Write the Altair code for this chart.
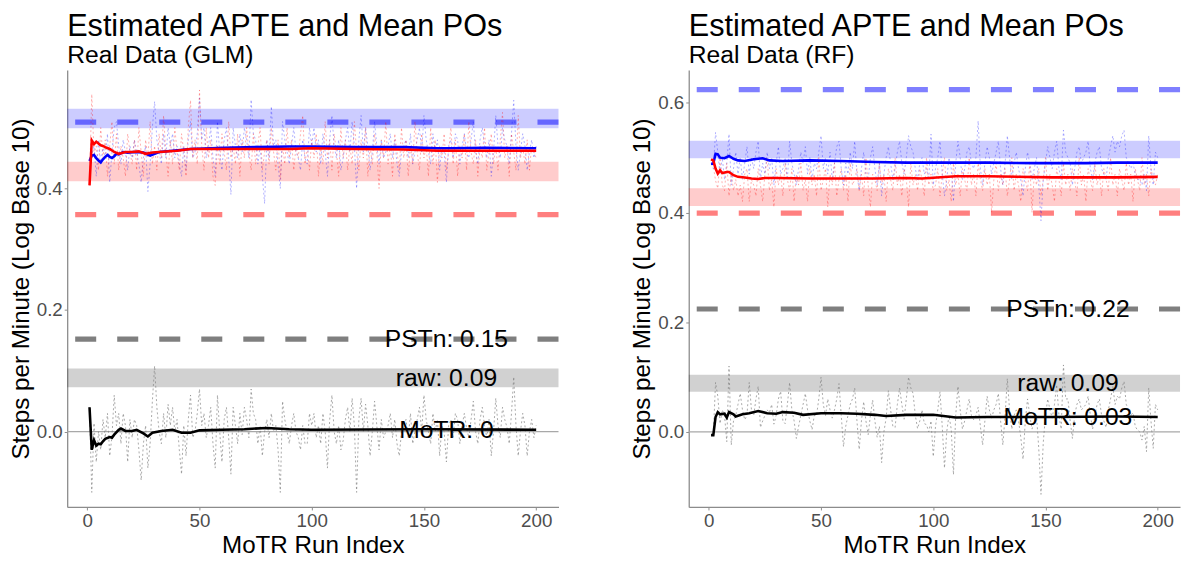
import altair as alt
import pandas as pd

FONT = "Liberation Sans"

runs = list(range(1, 201))

# ---------------- GLM panel: per-run values (dotted) ----------------
glm_treat = [
    0.445, 0.455, 0.470, 0.420, 0.480, 0.440, 0.470, 0.450, 0.490, 0.410, 0.460, 0.500, 0.510, 0.470, 0.440, 0.480, 0.460, 0.430, 0.470, 0.450,
    0.480, 0.460, 0.440, 0.410, 0.450, 0.470, 0.395, 0.440, 0.500, 0.543, 0.480, 0.460, 0.440, 0.490, 0.450, 0.500, 0.470, 0.490, 0.450, 0.470,
    0.440, 0.420, 0.470, 0.430, 0.480, 0.510, 0.450, 0.460, 0.490, 0.549, 0.480, 0.500, 0.450, 0.470, 0.500, 0.450, 0.420, 0.510, 0.460, 0.430,
    0.480, 0.500, 0.450, 0.390, 0.500, 0.470, 0.450, 0.490, 0.460, 0.500, 0.480, 0.450, 0.546, 0.490, 0.480, 0.440, 0.470, 0.420, 0.375, 0.480,
    0.450, 0.535, 0.470, 0.480, 0.440, 0.400, 0.510, 0.480, 0.460, 0.440, 0.470, 0.500, 0.460, 0.450, 0.430, 0.480, 0.450, 0.440, 0.500, 0.470,
    0.500, 0.460, 0.480, 0.440, 0.490, 0.460, 0.420, 0.480, 0.520, 0.470, 0.450, 0.480, 0.430, 0.450, 0.480, 0.500, 0.460, 0.510, 0.470, 0.400,
    0.480, 0.520, 0.460, 0.500, 0.470, 0.430, 0.460, 0.510, 0.470, 0.440, 0.480, 0.450, 0.460, 0.470, 0.490, 0.450, 0.480, 0.440, 0.420, 0.460,
    0.470, 0.480, 0.450, 0.490, 0.440, 0.460, 0.480, 0.500, 0.460, 0.520, 0.480, 0.460, 0.440, 0.490, 0.460, 0.480, 0.430, 0.470, 0.460, 0.410,
    0.470, 0.480, 0.450, 0.490, 0.480, 0.440, 0.470, 0.490, 0.460, 0.450, 0.480, 0.510, 0.460, 0.440, 0.480, 0.500, 0.470, 0.450, 0.480, 0.420,
    0.460, 0.520, 0.470, 0.450, 0.500, 0.480, 0.470, 0.440, 0.490, 0.545, 0.470, 0.430, 0.460, 0.490, 0.470, 0.430, 0.460, 0.480, 0.450, 0.470,
]
glm_control = [
    0.405, 0.555, 0.456, 0.470, 0.430, 0.500, 0.450, 0.480, 0.420, 0.470, 0.510, 0.440, 0.490, 0.430, 0.470, 0.450, 0.420, 0.490, 0.460, 0.440,
    0.480, 0.430, 0.500, 0.460, 0.420, 0.480, 0.450, 0.510, 0.440, 0.470, 0.430, 0.490, 0.450, 0.520, 0.460, 0.420, 0.480, 0.440, 0.500, 0.460,
    0.430, 0.490, 0.460, 0.420, 0.500, 0.545, 0.450, 0.480, 0.440, 0.562, 0.470, 0.430, 0.500, 0.450, 0.480, 0.420, 0.405, 0.470, 0.440, 0.490,
    0.460, 0.430, 0.510, 0.450, 0.470, 0.440, 0.490, 0.420, 0.480, 0.450, 0.500, 0.460, 0.430, 0.490, 0.440, 0.470, 0.500, 0.430, 0.460, 0.480,
    0.440, 0.500, 0.460, 0.430, 0.480, 0.415, 0.470, 0.440, 0.500, 0.450, 0.480, 0.430, 0.470, 0.450, 0.490, 0.520, 0.440, 0.470, 0.430, 0.480,
    0.450, 0.490, 0.420, 0.470, 0.440, 0.510, 0.450, 0.480, 0.430, 0.490, 0.460, 0.420, 0.500, 0.450, 0.480, 0.430, 0.470, 0.440, 0.510, 0.460,
    0.430, 0.480, 0.450, 0.500, 0.420, 0.470, 0.440, 0.490, 0.460, 0.400, 0.480, 0.450, 0.510, 0.440, 0.470, 0.420, 0.490, 0.460, 0.430, 0.500,
    0.450, 0.480, 0.420, 0.470, 0.440, 0.510, 0.460, 0.430, 0.490, 0.450, 0.470, 0.420, 0.500, 0.440, 0.480, 0.410, 0.470, 0.450, 0.490, 0.430,
    0.460, 0.500, 0.440, 0.480, 0.420, 0.470, 0.450, 0.490, 0.430, 0.510, 0.460, 0.440, 0.480, 0.420, 0.470, 0.450, 0.500, 0.430, 0.460, 0.490,
    0.440, 0.470, 0.430, 0.480, 0.525, 0.450, 0.470, 0.420, 0.490, 0.460, 0.430, 0.520, 0.450, 0.470, 0.440, 0.480, 0.430, 0.470, 0.460, 0.450,
]
glm_diff = [
    0.040, -0.100, 0.014, -0.050, 0.000, -0.030, 0.020, -0.010, 0.030, -0.040, -0.008, 0.060, 0.010, 0.030, -0.020, 0.030, 0.010, -0.050, 0.020, -0.010,
    0.020, 0.010, -0.030, -0.080, -0.020, 0.010, -0.060, -0.020, 0.050, 0.108, 0.040, 0.000, -0.020, 0.030, -0.010, 0.045, 0.010, 0.040, 0.000, 0.020,
    -0.030, -0.070, 0.010, -0.040, 0.020, 0.060, -0.010, 0.000, 0.030, 0.070, 0.010, 0.030, -0.010, 0.010, 0.040, -0.020, -0.060, 0.060, 0.000, -0.050,
    0.020, 0.040, -0.010, -0.070, 0.040, 0.010, -0.020, 0.030, -0.005, 0.040, 0.020, -0.010, 0.070, 0.030, 0.020, -0.020, 0.010, -0.040, 0.000, 0.020,
    -0.010, 0.030, 0.000, 0.010, -0.030, -0.100, 0.050, 0.020, 0.000, -0.020, 0.010, 0.030, 0.000, -0.010, -0.030, 0.010, -0.020, -0.020, 0.030, 0.010,
    0.030, -0.010, 0.010, -0.020, 0.030, 0.000, -0.060, 0.020, 0.060, 0.000, -0.020, 0.010, -0.030, -0.015, 0.020, 0.040, 0.000, 0.055, 0.010, -0.100,
    0.020, 0.055, 0.000, 0.045, 0.010, -0.040, 0.000, 0.050, 0.010, -0.030, 0.020, -0.010, 0.000, 0.010, 0.030, -0.010, 0.020, -0.020, -0.040, 0.000,
    0.010, 0.020, -0.010, 0.030, -0.020, 0.000, 0.020, 0.040, 0.000, 0.060, 0.020, 0.000, -0.020, 0.030, 0.000, 0.020, -0.040, 0.010, 0.000, -0.050,
    0.010, 0.020, -0.010, 0.030, 0.020, -0.020, 0.010, 0.030, 0.005, -0.010, 0.020, 0.050, 0.000, -0.020, 0.020, 0.040, 0.010, -0.010, 0.020, -0.040,
    0.000, 0.055, 0.010, -0.010, 0.040, 0.020, 0.007, -0.020, 0.030, 0.090, 0.010, -0.040, 0.000, 0.030, 0.010, -0.040, 0.000, 0.020, -0.010, 0.010,
]

# running means (solid lines)
glm_treat_mean_x = [1, 2, 3, 4, 5, 6, 7, 8, 9, 10, 11, 12, 13, 14, 16, 18, 21, 25, 28, 32, 38, 46, 61, 75, 90, 100, 119, 141, 156, 162, 177, 200]
glm_treat_mean = [0.445, 0.454, 0.455, 0.450, 0.446, 0.443, 0.448, 0.452, 0.455, 0.452, 0.450, 0.453, 0.457, 0.456, 0.460, 0.459,
                  0.460, 0.459, 0.454, 0.460, 0.462, 0.465, 0.467, 0.468, 0.469, 0.469, 0.468, 0.468, 0.466, 0.466, 0.467, 0.466]
glm_control_mean_x = [1, 2, 3, 4, 5, 6, 7, 8, 10, 12, 14, 17, 20, 23, 26, 29, 32, 40, 46, 61, 75, 90, 100, 119, 141, 156, 177, 200]
glm_control_mean = [0.405, 0.479, 0.473, 0.477, 0.474, 0.471, 0.470, 0.468, 0.465, 0.460, 0.457, 0.460, 0.460, 0.461, 0.457, 0.459,
                    0.460, 0.462, 0.465, 0.465, 0.465, 0.465, 0.466, 0.465, 0.464, 0.462, 0.462, 0.462]
glm_diff_mean_x = [1, 2, 3, 4, 5, 6, 7, 8, 10, 11, 12, 14, 15, 17, 20, 22, 25, 27, 29, 33, 38, 42, 46, 50, 60, 70, 80, 90, 100, 150, 200]
glm_diff_mean = [0.040, -0.030, -0.014, -0.023, -0.020, -0.021, -0.016, -0.012, -0.009, -0.010, -0.005, 0.003, 0.005, 0.001, 0.001, 0.003,
                 -0.003, -0.008, -0.002, 0.001, 0.003, -0.002, -0.002, 0.002, 0.003, 0.004, 0.006, 0.004, 0.003, 0.004, 0.003]

# ---------------- RF panel ----------------
rf_treat = [
    0.489, 0.480, 0.546, 0.510, 0.470, 0.500, 0.460, 0.490, 0.543, 0.450, 0.480, 0.510, 0.470, 0.500, 0.460, 0.490, 0.520, 0.470, 0.500, 0.480,
    0.510, 0.530, 0.460, 0.490, 0.470, 0.510, 0.480, 0.500, 0.450, 0.490, 0.520, 0.470, 0.480, 0.500, 0.460, 0.530, 0.490, 0.470, 0.450, 0.480,
    0.510, 0.490, 0.520, 0.470, 0.500, 0.460, 0.490, 0.480, 0.510, 0.540, 0.480, 0.500, 0.470, 0.510, 0.460, 0.490, 0.520, 0.530, 0.480, 0.450,
    0.490, 0.470, 0.510, 0.480, 0.530, 0.470, 0.440, 0.480, 0.510, 0.470, 0.460, 0.500, 0.520, 0.480, 0.450, 0.490, 0.430, 0.470, 0.500, 0.520,
    0.490, 0.460, 0.480, 0.510, 0.530, 0.490, 0.470, 0.500, 0.540, 0.520, 0.510, 0.480, 0.460, 0.490, 0.500, 0.470, 0.480, 0.460, 0.543, 0.450,
    0.480, 0.500, 0.530, 0.470, 0.430, 0.460, 0.500, 0.480, 0.420, 0.490, 0.530, 0.500, 0.460, 0.480, 0.510, 0.520, 0.490, 0.480, 0.500, 0.567,
    0.480, 0.450, 0.490, 0.520, 0.500, 0.470, 0.490, 0.510, 0.530, 0.480, 0.450, 0.490, 0.540, 0.500, 0.460, 0.490, 0.510, 0.480, 0.460, 0.430,
    0.480, 0.510, 0.490, 0.460, 0.480, 0.500, 0.450, 0.385, 0.460, 0.490, 0.520, 0.500, 0.480, 0.510, 0.530, 0.480, 0.460, 0.550, 0.510, 0.500,
    0.490, 0.450, 0.480, 0.510, 0.520, 0.490, 0.500, 0.510, 0.530, 0.480, 0.460, 0.490, 0.510, 0.520, 0.480, 0.470, 0.460, 0.500, 0.520, 0.540,
    0.510, 0.530, 0.520, 0.540, 0.550, 0.500, 0.490, 0.480, 0.490, 0.470, 0.460, 0.460, 0.450, 0.470, 0.440, 0.540, 0.480, 0.450, 0.510, 0.500,
]
rf_control = [
    0.497, 0.485, 0.458, 0.444, 0.500, 0.450, 0.440, 0.490, 0.430, 0.470, 0.440, 0.460, 0.430, 0.450, 0.420, 0.470, 0.480, 0.420, 0.460, 0.450,
    0.430, 0.480, 0.450, 0.420, 0.470, 0.500, 0.440, 0.460, 0.410, 0.480, 0.450, 0.470, 0.430, 0.490, 0.460, 0.440, 0.480, 0.420, 0.470, 0.450,
    0.490, 0.440, 0.460, 0.420, 0.480, 0.450, 0.470, 0.430, 0.500, 0.440, 0.460, 0.480, 0.410, 0.470, 0.450, 0.490, 0.430, 0.460, 0.480, 0.440,
    0.470, 0.420, 0.490, 0.450, 0.460, 0.480, 0.440, 0.470, 0.430, 0.500, 0.450, 0.410, 0.470, 0.460, 0.440, 0.490, 0.450, 0.470, 0.420, 0.480,
    0.460, 0.440, 0.500, 0.450, 0.470, 0.430, 0.480, 0.460, 0.410, 0.490, 0.450, 0.470, 0.440, 0.480, 0.460, 0.430, 0.500, 0.450, 0.470, 0.440,
    0.450, 0.480, 0.430, 0.470, 0.500, 0.440, 0.460, 0.420, 0.490, 0.450, 0.470, 0.430, 0.480, 0.460, 0.440, 0.500, 0.450, 0.470, 0.430, 0.490,
    0.460, 0.440, 0.480, 0.450, 0.470, 0.400, 0.460, 0.490, 0.440, 0.470, 0.450, 0.480, 0.430, 0.460, 0.500, 0.440, 0.470, 0.450, 0.420, 0.480,
    0.460, 0.440, 0.490, 0.400, 0.470, 0.450, 0.480, 0.430, 0.460, 0.500, 0.440, 0.470, 0.450, 0.420, 0.480, 0.460, 0.430, 0.490, 0.450, 0.470,
    0.440, 0.480, 0.460, 0.430, 0.500, 0.450, 0.470, 0.420, 0.480, 0.460, 0.440, 0.490, 0.450, 0.470, 0.430, 0.480, 0.460, 0.440, 0.500, 0.450,
    0.470, 0.430, 0.480, 0.460, 0.440, 0.490, 0.450, 0.470, 0.420, 0.480, 0.460, 0.440, 0.500, 0.450, 0.470, 0.430, 0.480, 0.460, 0.450, 0.470,
]
rf_diff = [
    -0.006, -0.006, 0.090, 0.065, 0.015, 0.040, 0.030, -0.018, 0.120, -0.024, 0.020, 0.030, 0.050, 0.070, 0.040, 0.022, 0.030, 0.090, 0.040, 0.030,
    0.060, 0.083, 0.008, 0.020, 0.030, 0.040, 0.035, 0.050, 0.014, 0.030, 0.060, 0.074, 0.020, 0.015, 0.050, 0.090, 0.040, 0.020, -0.012, 0.010,
    0.030, 0.050, 0.070, 0.040, 0.020, 0.004, 0.030, 0.030, 0.060, 0.100, 0.050, 0.030, 0.060, 0.040, 0.025, 0.040, 0.060, 0.088, 0.030, -0.027,
    0.010, 0.030, 0.050, 0.060, 0.080, 0.020, -0.032, 0.020, 0.055, 0.020, -0.005, 0.030, 0.058, 0.020, -0.010, 0.010, -0.056, 0.000, 0.025, 0.075,
    0.040, 0.010, 0.008, 0.050, 0.080, 0.050, 0.023, 0.060, 0.100, 0.080, 0.070, 0.030, 0.006, 0.020, 0.040, 0.015, 0.013, 0.000, 0.020, -0.045,
    0.010, 0.040, 0.073, 0.010, -0.066, 0.000, 0.030, 0.005, -0.078, 0.030, 0.083, 0.040, 0.005, 0.020, 0.040, 0.060, 0.030, 0.022, 0.030, 0.045,
    0.010, -0.024, 0.020, 0.065, 0.040, 0.025, 0.040, 0.050, 0.070, 0.020, -0.024, 0.030, 0.097, 0.040, 0.005, 0.030, 0.040, 0.020, -0.010, -0.050,
    0.020, 0.060, 0.030, 0.005, 0.020, 0.030, -0.030, -0.114, -0.020, 0.030, 0.060, 0.040, 0.025, 0.050, 0.086, 0.030, 0.005, 0.122, 0.060, 0.060,
    0.020, -0.012, 0.030, 0.050, 0.060, 0.040, 0.045, 0.050, 0.065, 0.030, 0.005, 0.030, 0.050, 0.060, 0.030, 0.020, 0.008, 0.040, 0.060, 0.083,
    0.050, 0.065, 0.060, 0.080, 0.092, 0.050, 0.040, 0.030, 0.035, 0.010, 0.003, 0.000, -0.015, 0.010, -0.036, 0.080, 0.020, -0.030, 0.050, 0.040,
]

rf_treat_mean_x = [1, 2, 3, 4, 5, 7, 9, 11, 13, 16, 20, 24, 27, 33, 45, 59, 74, 88, 100, 124, 146, 168, 182, 200]
rf_treat_mean = [0.489, 0.489, 0.507, 0.506, 0.500, 0.499, 0.503, 0.498, 0.495, 0.494, 0.497, 0.499, 0.495, 0.494, 0.495, 0.494,
                 0.492, 0.491, 0.491, 0.491, 0.490, 0.490, 0.491, 0.491]
rf_control_mean_x = [1, 2, 3, 4, 5, 6, 8, 9, 11, 13, 16, 19, 22, 25, 30, 45, 60, 74, 88, 95, 110, 124, 153, 182, 200]
rf_control_mean = [0.497, 0.495, 0.480, 0.471, 0.477, 0.472, 0.474, 0.474, 0.468, 0.465, 0.464, 0.462, 0.461, 0.463, 0.463, 0.462,
                   0.462, 0.462, 0.463, 0.462, 0.466, 0.466, 0.464, 0.464, 0.465]
rf_diff_mean_x = [1, 2, 3, 4, 5, 7, 8, 9, 11, 12, 15, 18, 22, 26, 30, 33, 38, 42, 50, 59, 66, 74, 79, 88, 100, 110, 124, 153, 182, 200]
rf_diff_mean = [-0.006, -0.006, 0.027, 0.036, 0.032, 0.033, 0.026, 0.036, 0.032, 0.028, 0.032, 0.034, 0.038, 0.034, 0.033, 0.036,
                0.035, 0.031, 0.034, 0.034, 0.033, 0.031, 0.029, 0.031, 0.031, 0.026, 0.027, 0.027, 0.028, 0.027]

# reference lines (dashed) and raw-data bands
glm_ref = [0.509, 0.357, 0.152]          # treated PO, control PO, PSTn
rf_ref = [0.624, 0.399, 0.224]
band_lo = [0.499, 0.412, 0.073]          # treated, control, raw difference
band_hi = [0.531, 0.444, 0.104]
glm_labels = ["PSTn: 0.15", "raw: 0.09", "MoTR: 0"]
glm_label_y = [0.152, 0.088, 0.003]
rf_labels = ["PSTn: 0.22", "raw: 0.09", "MoTR: 0.03"]
rf_label_y = [0.224, 0.088, 0.027]
label_x = 160

x_ticks = [0, 50, 100, 150, 200]
glm_y_ticks = [0.0, 0.2, 0.4]
rf_y_ticks = [0.0, 0.2, 0.4, 0.6]
glm_y_domain = [-0.124, 0.595]
rf_y_domain = [-0.137, 0.660]
x_domain = [-8.95, 209.95]

W, H = 498, 443
COLORS = ["#0000FF", "#FF0000", "#000000"]
YTITLE = "Steps per Minute (Log Base 10)"
XTITLE = "MoTR Run Index"


def panel(treat, control, diff, tm_x, tm, cm_x, cm, dm_x, dm, refs, labels, label_y, y_dom, y_ticks, subtitle):
    xs = alt.Scale(domain=x_domain, nice=False, zero=False)
    ys = alt.Scale(domain=y_dom, nice=False, zero=False)
    x_axis = alt.Axis(values=x_ticks, title=XTITLE, format="d")
    y_axis = alt.Axis(values=y_ticks, title=YTITLE, format=".1f")

    def X(f="run"):
        return alt.X(f"{f}:Q", scale=xs, axis=x_axis, title=XTITLE)

    def Y(f="y"):
        return alt.Y(f"{f}:Q", scale=ys, axis=y_axis, title=YTITLE)

    bands = pd.DataFrame({"run": [x_domain[0]] * 3, "run2": [x_domain[1]] * 3,
                          "lo": band_lo, "hi": band_hi,
                          "col": ["#0000FF", "#FF0000", "#000000"],
                          "op": [0.2, 0.2, 0.18]})
    band_layer = alt.Chart(bands).mark_rect().encode(
        x=X(), x2="run2:Q",
        y=Y("lo"), y2="hi:Q",
        color=alt.Color("col:N", scale=None),
        opacity=alt.Opacity("op:Q", scale=None),
    )

    zero_layer = alt.Chart(pd.DataFrame({"y": [0.0]})).mark_rule(
        color="#A8A8A8", strokeWidth=1.1).encode(y=Y())

    ref_df = pd.DataFrame({"y": refs, "col": COLORS})
    ref_layer = alt.Chart(ref_df).mark_rule(
        strokeWidth=5.3, strokeDash=[21.3, 21.3], opacity=0.5, strokeCap="butt"
    ).encode(y=Y(), color=alt.Color("col:N", scale=None))

    def dotted(vals, col, op):
        df = pd.DataFrame({"run": runs, "y": vals})
        return alt.Chart(df).mark_line(
            color=col, strokeWidth=0.9, strokeDash=[2, 2.5], opacity=op
        ).encode(x=X(), y=Y())

    def solid(xv, vals, col):
        df = pd.DataFrame({"run": xv, "y": vals})
        return alt.Chart(df).mark_line(color=col, strokeWidth=2.6).encode(x=X(), y=Y())

    lab_df = pd.DataFrame({"run": [label_x] * len(labels), "y": label_y, "t": labels})
    text_layer = alt.Chart(lab_df).mark_text(
        font=FONT, fontSize=25, align="center", baseline="middle", color="black"
    ).encode(x=X(), y=Y(), text="t:N")

    layers = [
        band_layer, zero_layer, ref_layer,
        dotted(diff, "#7F7F7F", 0.75),
        dotted(treat, "#0000FF", 0.35),
        dotted(control, "#FF0000", 0.35),
        solid(tm_x, tm, "#0000FF"),
        solid(cm_x, cm, "#FF0000"),
        solid(dm_x, dm, "#000000"),
        text_layer,
    ]
    return alt.layer(*layers).properties(
        width=W, height=H,
        title=alt.TitleParams(
            text="Estimated APTE and Mean POs", subtitle=subtitle,
            anchor="start", frame="group", font=FONT, subtitleFont=FONT,
            fontSize=31, subtitleFontSize=25, fontWeight="normal",
            color="black", subtitleColor="black", offset=1, subtitlePadding=0,
        ),
    )


left = panel(glm_treat, glm_control, glm_diff,
             glm_treat_mean_x, glm_treat_mean, glm_control_mean_x, glm_control_mean,
             glm_diff_mean_x, glm_diff_mean, glm_ref, glm_labels, glm_label_y,
             glm_y_domain, glm_y_ticks, "Real Data (GLM)")
right = panel(rf_treat, rf_control, rf_diff,
              rf_treat_mean_x, rf_treat_mean, rf_control_mean_x, rf_control_mean,
              rf_diff_mean_x, rf_diff_mean, rf_ref, rf_labels, rf_label_y,
              rf_y_domain, rf_y_ticks, "Real Data (RF)")

chart = alt.hconcat(left, right, spacing=69).properties(
    padding={"left": 0, "top": 0, "right": 0, "bottom": 0}
).configure_view(stroke=None).configure_axis(
    grid=False, domainColor="#8C8C8C", domainWidth=1.3, tickColor="#8C8C8C", tickSize=3,
    labelFont=FONT, labelFontSize=19, labelColor="#4D4D4D", labelPadding=2,
    titleFont=FONT, titleFontSize=24.5, titleColor="black", titleFontWeight="normal", titlePadding=3,
)

chart.save("out.html", embed_options={"renderer": "svg", "actions": False})
